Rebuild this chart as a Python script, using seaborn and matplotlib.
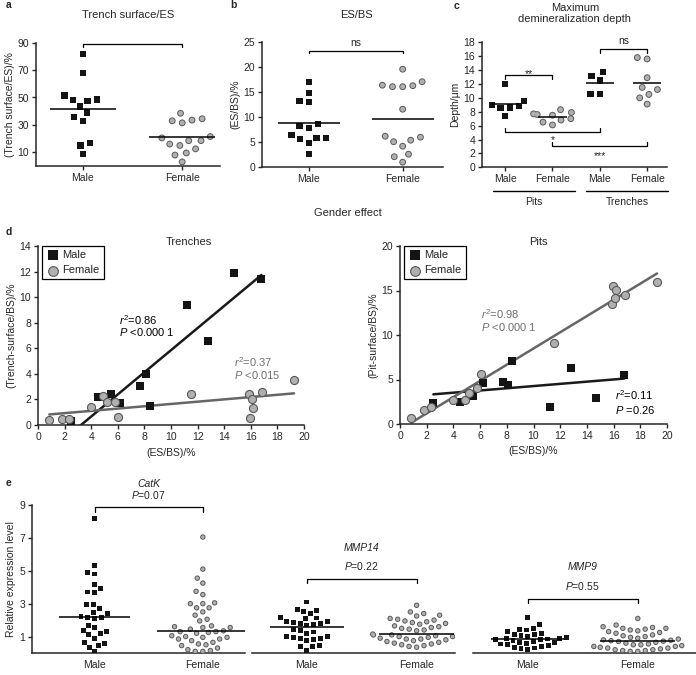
import matplotlib
matplotlib.use("Agg")
import matplotlib.pyplot as plt
import numpy as np
import pandas as pd
import seaborn as sns

# panel a: trench surface / eroded surface (%)
a_male = [81.5, 68, 51.5, 48.5, 47.5, 48, 43.5, 39, 36, 33, 17, 15, 8.5]
a_female = [38.5, 34.5, 33, 31.5, 33.5, 20.5, 21.5, 18.5, 18.5, 15, 16, 12.5, 9.5, 8, 3]

# panel b: eroded surface / bone surface (%)
b_male = [17, 14.8, 13.2, 12.9, 8.5, 8.2, 7.8, 5.8, 5.5, 5.8, 6.3, 4.7, 2.5]
b_female = [19.5, 17, 16.2, 16, 16, 16.3, 11.5, 5.9, 5, 6.1, 5.3, 4.1, 2.5, 2, 0.9]

# panel c: maximum demineralization depth (um)
c_pits_male = [12.0, 8.8, 8.6, 9.0, 9.6, 8.5, 7.4]
c_pits_female = [7.9, 7.7, 8.3, 7.5, 7.0, 6.8, 6.1, 6.5, 7.6]
c_trench_male = [13.1, 12.5, 13.7, 10.6, 10.6]
c_trench_female = [15.8, 15.6, 12.9, 11.2, 11.5, 10.5, 10.0, 9.1]
c_tick_labels = ["Male", "Female", "Male", "Female"]

# panel d: correlations against ES/BS
d_male_es = [2.5, 4.5, 5.5, 6.2, 7.7, 8.1, 8.4, 11.2, 12.8, 14.7, 16.8]
d_male_trench = [0.3, 2.2, 2.45, 1.75, 3.05, 3.95, 1.45, 9.4, 6.55, 11.85, 11.4]
d_male_pit = [2.4, 2.5, 3.2, 4.6, 4.75, 4.35, 7.05, 1.95, 6.3, 2.9, 5.45]
d_female_es = [0.85, 1.8, 2.3, 3.95, 4.85, 5.2, 5.8, 6.05, 11.5, 15.85, 15.95, 16.1, 16.2, 16.85, 19.25]
d_female_trench = [0.4, 0.45, 0.45, 1.4, 2.25, 1.8, 1.8, 0.6, 2.45, 2.45, 0.55, 2.0, 1.3, 2.55, 3.55]
d_female_pit = [0.65, 1.55, 1.95, 2.7, 2.75, 3.45, 4.0, 5.6, 9.15, 13.5, 15.5, 14.2, 15.05, 14.5, 15.9]

# panel e: relative expression levels
catk_male = [8.19, 5.3, 4.9, 4.8, 4.18, 3.67, 3.91, 3.71, 2.95, 2.69, 2.93, 2.48, 2.24, 2.14,
             2.08, 2.18, 2.38, 1.53, 1.32, 1.36, 1.67, 1.16, 1.12, 0.9, 0.65, 0.59, 0.45, 0.35, 0.1]
catk_female = [7.05, 5.1, 4.55, 4.25, 3.75, 3.55, 3.05, 3.0, 3.0, 2.75, 2.75, 2.5, 2.3, 2.05,
               1.95, 1.65, 1.6, 1.55, 1.55, 1.45, 1.35, 1.3, 1.3, 1.25, 1.2, 1.05, 1.0, 0.95,
               0.95, 0.85, 0.85, 0.75, 0.65, 0.55, 0.5, 0.45, 0.3, 0.2, 0.15, 0.1, 0.1]
mmp14_male = [3.1, 2.6, 2.66, 2.4, 2.5, 2.15, 2.1, 2.13, 1.75, 1.8, 1.83, 1.7, 1.8, 1.9, 1.9,
              1.42, 1.38, 1.28, 1.18, 1.02, 0.94, 0.87, 0.81, 0.77, 0.87, 0.98, 0.47, 0.41, 0.37, 0.16]
mmp14_female = [2.9, 2.5, 2.4, 2.3, 2.25, 2.1, 2.05, 2.0, 1.95, 1.9, 1.85, 1.8, 1.75, 1.65,
                1.6, 1.55, 1.5, 1.45, 1.4, 1.35, 1.15, 1.15, 1.1, 1.1, 1.05, 1.0, 1.0, 0.95,
                0.9, 0.85, 0.85, 0.8, 0.75, 0.7, 0.65, 0.6, 0.55, 0.5, 0.45, 0.4, 0.35]
mmp9_male = [2.15, 1.75, 1.5, 1.45, 1.4, 1.3, 1.2, 1.15, 1.1, 1.05, 1.0, 0.95, 0.9, 0.9, 0.85,
             0.8, 0.8, 0.75, 0.7, 0.65, 0.62, 0.6, 0.55, 0.5, 0.45, 0.4, 0.35, 0.3, 0.25, 0.2]
mmp9_female = [2.1, 1.7, 1.6, 1.55, 1.5, 1.5, 1.45, 1.4, 1.35, 1.3, 1.25, 1.2, 1.1, 1.05, 1.0,
               0.95, 0.9, 0.85, 0.8, 0.78, 0.75, 0.72, 0.7, 0.65, 0.6, 0.55, 0.5, 0.5, 0.45,
               0.4, 0.4, 0.35, 0.3, 0.3, 0.25, 0.2, 0.2, 0.15, 0.15, 0.1, 0.1]

sns.set_style("ticks")
plt.rcParams["font.family"] = ["Liberation Sans", "DejaVu Sans"]
plt.rcParams["mathtext.fontset"] = "custom"
plt.rcParams["mathtext.rm"] = "Liberation Sans"
plt.rcParams["mathtext.it"] = "Liberation Sans:italic"
plt.rcParams["font.size"] = 7.5
plt.rcParams["axes.linewidth"] = 1.1

MALE = "#141414"
FEM_FACE = "#b0b0b0"
FEM_EDGE = "#585858"
FS = 7.5
W, H = 696.0, 675.0


def rect(x0, x1, ytop, ybot):
    return [x0 / W, 1 - ybot / H, (x1 - x0) / W, (ybot - ytop) / H]


def style(ax, left=True):
    sns.despine(ax=ax, left=not left)
    ax.tick_params(direction="out", length=3, width=1, labelsize=FS, pad=2)
    if not left:
        ax.set_yticks([])
    ax.set_xlabel("")
    ax.set_ylabel("")


def swarm(ax, df, order, marker, face, size, gap):
    # invisible edge width only widens the spacing between neighbouring markers
    sns.swarmplot(data=df, x="group", y="value", order=order, marker=marker, color=face,
                  edgecolor="none", linewidth=gap, size=size, ax=ax, warn_thresh=1)


def dots(ax, male, female, order, sq, circ, gap, stat=np.mean, half=0.3):
    """male/female: dict group -> values; order: category order on the x axis."""
    dm = pd.DataFrame([(g, v) for g, vals in male.items() for v in vals], columns=["group", "value"])
    df = pd.DataFrame([(g, v) for g, vals in female.items() for v in vals], columns=["group", "value"])
    swarm(ax, dm, order, "s", MALE, sq, gap)
    # female: dark ring then lighter fill, same spacing so positions coincide
    swarm(ax, df, order, "o", FEM_EDGE, circ, gap)
    swarm(ax, df, order, "o", FEM_FACE, circ - 1.4, gap + 1.4)
    for groups in (male, female):
        for g, vals in groups.items():
            h = half[g] if isinstance(half, dict) else half
            i = order.index(g)
            ax.hlines(stat(vals), i - h, i + h, color="black", lw=1.1, zorder=5)


def bracket(ax, x0, x1, y, h, text=None, ty=None, va="center"):
    ax.plot([x0, x0, x1, x1], [y - h, y, y, y - h], color="black", lw=0.9, clip_on=False)
    if text is not None:
        ax.text((x0 + x1) / 2, ty, text, ha="center", va=va, fontsize=FS, clip_on=False)


fig = plt.figure(figsize=(W / 100, H / 100), dpi=100)

# ---- a
ax = fig.add_axes(rect(36, 220, 42.7, 166))
dots(ax, {"Male": a_male}, {"Female": a_female}, ["Male", "Female"], 4.5, 4.9, 2.1, half=0.33)
ax.set_ylim(0, 90)
ax.set_yticks([10, 30, 50, 70, 90])
ax.set_xlim(-0.47, 1.38)
style(ax)
ax.set_ylabel("(Trench surface/ES)/%", fontsize=FS, labelpad=2)
bracket(ax, 0, 1, 89, 2.4)
fig.text(128 / W, 1 - 15 / H, "Trench surface/ES", ha="center", va="center", fontsize=FS + 0.5)
fig.text(6 / W, 1 - 5 / H, "a", fontweight="bold", fontsize=FS, va="center")

# ---- b
ax = fig.add_axes(rect(262, 443, 41.7, 166.7))
dots(ax, {"Male": b_male}, {"Female": b_female}, ["Male", "Female"], 4.5, 4.9, 2.1, half=0.33)
ax.set_ylim(0, 25)
ax.set_yticks([0, 5, 10, 15, 20, 25])
ax.set_xlim(-0.5, 1.43)
style(ax)
ax.set_ylabel("(ES/BS)/%", fontsize=FS, labelpad=2)
bracket(ax, 0, 1, 23.2, 0.5, "ns", 24.7)
fig.text(356 / W, 1 - 15 / H, "ES/BS", ha="center", va="center", fontsize=FS + 0.5)
fig.text(230 / W, 1 - 5 / H, "b", fontweight="bold", fontsize=FS, va="center")

# ---- c
ax = fig.add_axes(rect(482, 667, 42.3, 167.3))
c_order = ["pm", "pf", "tm", "tf"]
dots(ax, {"pm": c_pits_male, "tm": c_trench_male}, {"pf": c_pits_female, "tf": c_trench_female},
     c_order, 4.5, 4.9, 1.9, half=0.3)
ax.set_ylim(0, 18)
ax.set_yticks(range(0, 19, 2))
ax.set_xlim(-0.49, 3.42)
style(ax)
ax.set_xticks(range(4))
ax.set_xticklabels(c_tick_labels)
ax.set_ylabel("Depth/\u03bcm", fontsize=FS, labelpad=2)
bracket(ax, 0, 1, 13.3, 0.6, "**", 13.05, va="baseline")
bracket(ax, 2, 3, 17.05, 0.55, "ns", 18.25)
bracket(ax, 0, 2, 5.05, -0.55, "*", 3.55, va="baseline")
bracket(ax, 1, 3, 3.1, -0.6, "***", 1.25, va="baseline")
tr = ax.get_xaxis_transform()
for x0, x1, lab in [(-0.26, 1.48, "Pits"), (1.71, 3.44, "Trenches")]:
    ax.plot([x0, x1], [-0.186, -0.186], color="black", lw=1.0, transform=tr, clip_on=False)
    ax.text((x0 + x1) / 2, -0.278, lab, transform=tr, ha="center", va="center", fontsize=FS)
fig.text(575 / W, 1 - 13.5 / H, "Maximum\ndemineralization depth", ha="center", va="center",
         fontsize=FS + 0.5, linespacing=1.1)
fig.text(454 / W, 1 - 6 / H, "c", fontweight="bold", fontsize=FS, va="center")

fig.text(0.5, 1 - 213 / H, "Gender effect", ha="center", va="center", fontsize=FS + 0.5)

# ---- d
fig.text(6 / W, 1 - 232 / H, "d", fontweight="bold", fontsize=FS, va="center")


def corr(ax, ym, yf, ylim, yticks, ylabel, title, tx):
    sns.regplot(x=d_male_es, y=ym, scatter=False, ci=None, truncate=True, ax=ax,
                line_kws=dict(color="#1a1a1a", lw=1.8))
    sns.regplot(x=d_female_es, y=yf, scatter=False, ci=None, truncate=True, ax=ax,
                line_kws=dict(color="#666666", lw=1.8))
    sns.scatterplot(x=d_male_es, y=ym, marker="s", color=MALE, s=32, linewidth=0,
                    label="Male", ax=ax, zorder=3)
    sns.scatterplot(x=d_female_es, y=yf, marker="o", color=FEM_FACE, edgecolor=FEM_EDGE,
                    linewidth=0.8, s=34, label="Female", ax=ax, zorder=3)
    ax.set_xlim(0, 20)
    ax.set_xticks(range(0, 21, 2))
    ax.set_ylim(*ylim)
    ax.set_yticks(yticks)
    style(ax)
    ax.set_xlabel("(ES/BS)/%", fontsize=FS)
    ax.set_ylabel(ylabel, fontsize=FS, labelpad=2)
    ax.text(tx, 1.02, title, transform=ax.transAxes, ha="center", va="center", fontsize=FS + 0.5)
    ax.legend(loc="upper left", bbox_to_anchor=(0.015, 1.0), borderaxespad=0, frameon=True,
              fancybox=False, edgecolor="black", framealpha=1, fontsize=FS + 0.5,
              handletextpad=0.3, borderpad=0.35, labelspacing=0.5, handlelength=1.2,
              markerscale=1.2)
    ax.get_legend().get_frame().set_linewidth(0.9)


ax = fig.add_axes(rect(38, 304, 246, 425))
corr(ax, d_male_trench, d_female_trench, (0, 14), range(0, 15, 2),
     "(Trench-surface/BS)/%", "Trenches", 0.567)
ax.text(6.1, 8.2, r"$r^2$=0.86", color="black", fontsize=FS + 0.5, va="center")
ax.text(6.1, 7.25, r"$P$ <0.000 1", color="black", fontsize=FS + 0.5, va="center")
ax.text(14.7, 4.95, r"$r^2$=0.37", color="#707070", fontsize=FS + 0.5, va="center")
ax.text(14.7, 3.9, r"$P$ <0.015", color="#707070", fontsize=FS + 0.5, va="center")

ax = fig.add_axes(rect(400, 667, 246, 424))
corr(ax, d_male_pit, d_female_pit, (0, 20), range(0, 21, 5),
     "(Pit-surface/BS)/%", "Pits", 0.517)
ax.text(6.1, 12.4, r"$r^2$=0.98", color="#707070", fontsize=FS + 0.5, va="center")
ax.text(6.1, 10.9, r"$P$ <0.000 1", color="#707070", fontsize=FS + 0.5, va="center")
ax.text(16.1, 3.2, r"$r^2$=0.11", color="black", fontsize=FS + 0.5, va="center")
ax.text(16.1, 1.6, r"$P$ =0.26", color="black", fontsize=FS + 0.5, va="center")

# ---- e
fig.text(6 / W, 1 - 483 / H, "e", fontweight="bold", fontsize=FS, va="center")
e_specs = [
    (rect(32, 245, 505, 653), catk_male, catk_female, "CatK", "0.07", (-0.58, 1.39),
     (10.3, 9.6, 8.86), {"Male": 0.33, "Female": 0.42}),
    (rect(252, 455, 505, 653), mmp14_male, mmp14_female, "MMP14", "0.22", (-0.5, 1.35),
     (6.4, 5.3, 4.5), 0.34),
    (rect(473, 696, 505, 653), mmp9_male, mmp9_female, "MMP9", "0.55", (-0.5, 1.53),
     (5.2, 4.1, 3.3), 0.34),
]
for i, (r, m, f, gene, p, xlim, (gy, py, by), half) in enumerate(e_specs):
    ax = fig.add_axes(r)
    dots(ax, {"Male": m}, {"Female": f}, ["Male", "Female"], 3.5, 3.9, 1.3,
         stat=np.median, half=half)
    ax.set_ylim(0, 9)
    ax.set_xlim(*xlim)
    style(ax, left=(i == 0))
    if i == 0:
        ax.set_yticks([1, 3, 5, 7, 9])
        ax.set_ylabel("Relative expression level", fontsize=FS, labelpad=2)
    ax.tick_params(axis="x", length=0, pad=5)
    bracket(ax, 0, 1, by, 0.27)
    ax.text(0.5, gy, gene, style="italic", ha="center", va="center", fontsize=FS, clip_on=False)
    ax.text(0.5, py, r"$P$=" + p, ha="center", va="center", fontsize=FS, clip_on=False)

fig.savefig("out.png", dpi=100)
